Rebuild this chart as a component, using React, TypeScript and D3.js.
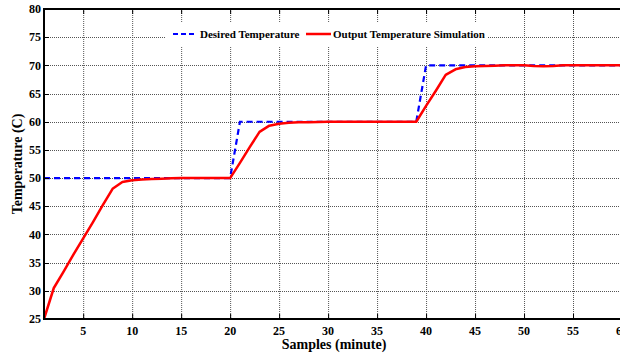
import { useEffect, useRef } from 'react';
import * as d3 from 'd3';

// samples 1..60
const samples = d3.range(1, 61);

const desired = samples.map(s => (s <= 20 ? 50 : s <= 39 ? 60 : 70));

const output = [
  25, 30.5, 33.4, 36.4, 39.3, 42.2, 45.2, 48.1, 49.3, 49.6,
  49.75, 49.85, 49.9, 49.95, 50, 50, 50, 50, 50, 50,
  52.7, 55.5, 58.2, 59.3, 59.65, 59.8, 59.9, 59.9, 59.95, 60,
  60, 60, 60, 60, 60, 60, 60, 60, 60, 62.8,
  65.5, 68.3, 69.3, 69.7, 69.85, 69.9, 69.95, 70, 70, 70,
  69.9, 69.85, 69.9, 70, 70, 70, 70, 70, 70, 70,
];

const xTicks = [5, 10, 15, 20, 25, 30, 35, 40, 45, 50, 55, 60];
const yTicks = [25, 30, 35, 40, 45, 50, 55, 60, 65, 70, 75, 80];

const seriesNames = ['Desired Temperature', 'Output Temperature Simulation'];

function App() {
  const svgRef = useRef<SVGSVGElement>(null);

  useEffect(() => {
    const W = 620, H = 357;
    const left = 44, top = 9, right = 622, bottom = 319;
    const font = 'Liberation Serif';

    const svg = d3.select(svgRef.current);
    svg.selectAll('*').remove();
    svg.attr('width', W).attr('height', H);

    const x = d3.scaleLinear().domain([1, 60]).range([left, right]);
    const y = d3.scaleLinear().domain([25, 80]).range([bottom, top]);

    // grid
    const grid = svg.append('g')
      .attr('stroke', '#555')
      .attr('stroke-width', 1)
      .attr('stroke-dasharray', '1,1');
    xTicks.forEach(t => {
      grid.append('line')
        .attr('x1', x(t) + 0.5).attr('x2', x(t) + 0.5)
        .attr('y1', top).attr('y2', bottom);
    });
    yTicks.forEach(t => {
      grid.append('line')
        .attr('x1', left).attr('x2', right)
        .attr('y1', Math.round(y(t)) + 0.5).attr('y2', Math.round(y(t)) + 0.5);
    });

    // legend background
    svg.append('rect')
      .attr('x', 165).attr('y', 22)
      .attr('width', 323).attr('height', 25)
      .attr('fill', '#fff');

    // lines
    const line = d3.line<number>()
      .x((_, i) => x(samples[i]))
      .y(d => y(d));

    svg.append('path')
      .datum(desired)
      .attr('fill', 'none')
      .attr('stroke', '#0000ff')
      .attr('stroke-width', 2.2)
      .attr('stroke-dasharray', '6,4')
      .attr('d', line);

    svg.append('path')
      .datum(output)
      .attr('fill', 'none')
      .attr('stroke', '#ff0000')
      .attr('stroke-width', 2.5)
      .attr('stroke-linejoin', 'round')
      .attr('d', line);

    // frame
    svg.append('path')
      .attr('d', `M${right},${top}H${left}V${bottom}H${right}`)
      .attr('fill', 'none')
      .attr('stroke', '#000')
      .attr('stroke-width', 2);

    // ticks
    const ticks = svg.append('g').attr('stroke', '#000').attr('stroke-width', 1);
    xTicks.forEach(t => {
      ticks.append('line')
        .attr('x1', x(t) + 0.5).attr('x2', x(t) + 0.5)
        .attr('y1', bottom).attr('y2', bottom - 5);
      ticks.append('line')
        .attr('x1', x(t) + 0.5).attr('x2', x(t) + 0.5)
        .attr('y1', top).attr('y2', top + 5);
    });
    yTicks.forEach(t => {
      ticks.append('line')
        .attr('x1', left).attr('x2', left + 5)
        .attr('y1', Math.round(y(t)) + 0.5).attr('y2', Math.round(y(t)) + 0.5);
    });

    // tick labels
    svg.append('g')
      .selectAll('text')
      .data(xTicks)
      .join('text')
      .attr('x', d => x(d))
      .attr('y', bottom + 16)
      .attr('text-anchor', 'middle')
      .attr('font-family', font)
      .attr('font-weight', 'bold')
      .attr('font-size', 12)
      .text(d => d);

    svg.append('g')
      .selectAll('text')
      .data(yTicks)
      .join('text')
      .attr('x', left - 3)
      .attr('y', d => y(d))
      .attr('dy', '0.35em')
      .attr('text-anchor', 'end')
      .attr('font-family', font)
      .attr('font-weight', 'bold')
      .attr('font-size', 12)
      .text(d => d);

    // axis labels
    svg.append('text')
      .attr('x', 334)
      .attr('y', 349)
      .attr('text-anchor', 'middle')
      .attr('font-family', font)
      .attr('font-weight', 'bold')
      .attr('font-size', 14)
      .text('Samples (minute)');

    svg.append('text')
      .attr('transform', `translate(22,${(top + bottom) / 2}) rotate(-90)`)
      .attr('text-anchor', 'middle')
      .attr('font-family', font)
      .attr('font-weight', 'bold')
      .attr('font-size', 14)
      .text('Temperature (C)');

    // legend
    const lg = svg.append('g');
    lg.append('line')
      .attr('x1', 173).attr('x2', 197).attr('y1', 34).attr('y2', 34)
      .attr('stroke', '#0000ff').attr('stroke-width', 2.2)
      .attr('stroke-dasharray', '5,3');
    lg.append('text')
      .attr('x', 200).attr('y', 38)
      .attr('font-family', font)
      .attr('font-weight', 'bold')
      .attr('font-size', 11)
      .text(seriesNames[0]);
    lg.append('line')
      .attr('x1', 306).attr('x2', 331).attr('y1', 34).attr('y2', 34)
      .attr('stroke', '#ff0000').attr('stroke-width', 2.5);
    lg.append('text')
      .attr('x', 333).attr('y', 38)
      .attr('font-family', font)
      .attr('font-weight', 'bold')
      .attr('font-size', 11)
      .text(seriesNames[1]);
  }, []);

  return (
    <svg ref={svgRef} style={{ position: 'absolute', left: 0, top: 0, background: '#fff' }}></svg>
  );
}

export default App;
